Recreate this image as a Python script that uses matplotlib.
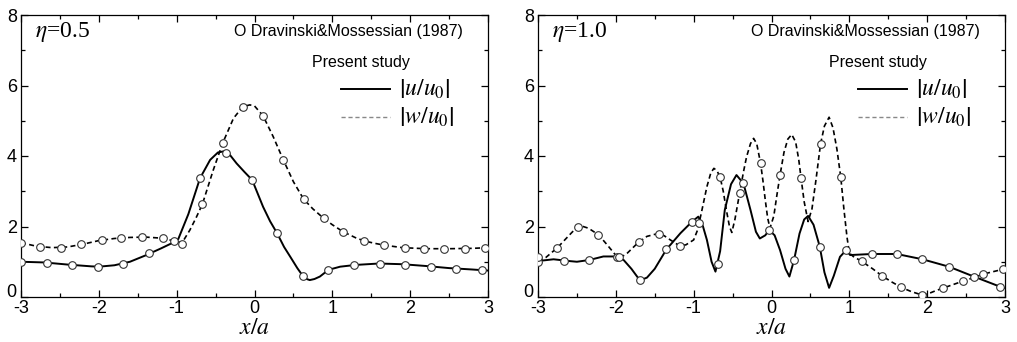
import numpy as np
import matplotlib.pyplot as plt

plt.rcParams['font.family'] = 'Liberation Sans'
plt.rcParams['mathtext.fontset'] = 'stix'

# eta = 0.5, present study (lines)
u05_x = [-3.0, -2.7, -2.4, -2.1, -2.0, -1.8, -1.6, -1.4, -1.2, -1.03, -0.98, -0.85, -0.70, -0.57,
         -0.47, -0.40, -0.33, -0.23, -0.13, -0.03, 0.11, 0.20, 0.29, 0.38, 0.46, 0.55, 0.62, 0.67,
         0.71, 0.77, 0.84, 0.95, 1.10, 1.30, 1.60, 1.90, 2.20, 2.50, 2.80, 3.0]
u05_y = [1.00, 0.98, 0.92, 0.87, 0.86, 0.90, 1.00, 1.18, 1.38, 1.56, 1.64, 2.35, 3.37, 3.89,
         4.10, 4.13, 4.07, 3.79, 3.55, 3.32, 2.56, 2.15, 1.81, 1.42, 1.14, 0.82, 0.60, 0.51,
         0.48, 0.51, 0.58, 0.77, 0.86, 0.91, 0.95, 0.93, 0.88, 0.82, 0.78, 0.75]
w05_x = [-3.0, -2.8, -2.6, -2.4, -2.2, -2.0, -1.8, -1.6, -1.4, -1.2, -1.05, -0.93, -0.83, -0.75,
         -0.67, -0.53, -0.41, -0.27, -0.15, -0.06, 0.0, 0.11, 0.24, 0.37, 0.50, 0.63, 0.75, 0.89,
         1.0, 1.14, 1.30, 1.41, 1.55, 1.67, 1.90, 2.20, 2.50, 2.80, 3.0]
w05_y = [1.54, 1.44, 1.40, 1.42, 1.50, 1.60, 1.66, 1.69, 1.70, 1.67, 1.60, 1.54, 1.90, 2.25,
         2.63, 3.60, 4.36, 5.07, 5.40, 5.45, 5.42, 5.14, 4.55, 3.89, 3.27, 2.78, 2.50, 2.23,
         2.05, 1.85, 1.68, 1.59, 1.52, 1.47, 1.40, 1.37, 1.37, 1.38, 1.40]

# eta = 0.5, Dravinski & Mossessian (1987) (circles)
du05_x = [-3.0, -2.67, -2.35, -2.01, -1.69, -1.35, -1.03, -0.70, -0.36, -0.03, 0.29, 0.62, 0.95,
          1.28, 1.61, 1.94, 2.27, 2.59, 2.92]
du05_y = [1.00, 0.97, 0.90, 0.85, 0.94, 1.24, 1.58, 3.37, 4.09, 3.32, 1.81, 0.60, 0.77,
          0.90, 0.95, 0.91, 0.86, 0.80, 0.76]
dw05_x = [-3.0, -2.75, -2.49, -2.23, -1.96, -1.71, -1.45, -1.18, -0.93, -0.67, -0.41, -0.15, 0.11,
          0.37, 0.63, 0.89, 1.14, 1.41, 1.67, 1.93, 2.18, 2.44, 2.70, 2.96]
dw05_y = [1.54, 1.42, 1.39, 1.49, 1.62, 1.68, 1.70, 1.66, 1.51, 2.65, 4.36, 5.40, 5.14,
          3.89, 2.78, 2.23, 1.85, 1.59, 1.47, 1.40, 1.37, 1.37, 1.37, 1.40]

# eta = 1.0, present study (lines)
u10_x = [-3.0, -2.8, -2.6, -2.5, -2.34, -2.16, -2.0, -1.9, -1.8, -1.69, -1.6, -1.5, -1.35, -1.17,
         -1.02, -0.94, -0.88, -0.83, -0.77, -0.72, -0.66, -0.60, -0.52, -0.45, -0.36, -0.27, -0.20,
         -0.15, -0.08, -0.03, 0.04, 0.11, 0.18, 0.23, 0.29, 0.36, 0.42, 0.47, 0.54, 0.62, 0.68,
         0.74, 0.80, 0.88, 0.96, 1.01, 1.10, 1.29, 1.61, 1.94, 2.28, 2.60, 2.94, 3.0]
u10_y = [1.02, 1.07, 1.02, 1.00, 1.05, 1.15, 1.15, 1.05, 0.80, 0.47, 0.55, 0.80, 1.35, 1.81,
         2.14, 2.28, 2.00, 1.62, 1.00, 0.72, 1.30, 2.47, 3.20, 3.46, 3.22, 2.47, 1.85,
         1.66, 1.75, 1.90, 1.75, 1.33, 0.80, 0.58, 1.05, 1.80, 2.20, 2.30, 2.05, 1.43, 0.70,
         0.26, 0.60, 1.14, 1.33, 1.19, 1.20, 1.22, 1.22, 1.07, 0.86, 0.58, 0.29, 0.25]
w10_x = [-3.0, -2.9, -2.75, -2.6, -2.5, -2.45, -2.35, -2.22, -2.1, -2.0, -1.95, -1.85, -1.71, -1.6,
         -1.46, -1.38, -1.30, -1.18, -1.10, -1.0, -0.95, -0.90, -0.83, -0.78, -0.74, -0.70, -0.66,
         -0.62, -0.58, -0.54, -0.51, -0.47, -0.41, -0.36, -0.32, -0.27, -0.23, -0.19, -0.14, -0.11,
         -0.08, -0.05, -0.02, 0.03, 0.07, 0.11, 0.16, 0.21, 0.26, 0.31, 0.35, 0.38, 0.42, 0.47,
         0.52, 0.57, 0.63, 0.68, 0.74, 0.79, 0.84, 0.89, 0.93, 0.97, 1.0, 1.05, 1.16, 1.30, 1.42,
         1.55, 1.67, 1.80, 1.93, 2.0, 2.10, 2.20, 2.33, 2.46, 2.60, 2.72, 2.85, 3.0]
w10_y = [1.02, 1.12, 1.40, 1.75, 1.98, 2.02, 1.95, 1.76, 1.45, 1.18, 1.10, 1.25, 1.55, 1.72,
         1.80, 1.74, 1.62, 1.45, 1.48, 1.62, 1.90, 2.40, 3.13, 3.52, 3.65, 3.58, 3.40,
         3.00, 2.47, 2.00, 1.83, 2.20, 2.94, 3.55, 3.98, 4.35, 4.50, 4.35, 3.79, 3.30,
         2.75, 2.25, 1.95, 2.30, 2.90, 3.46, 4.10, 4.48, 4.61, 4.40, 3.90, 3.37, 2.70, 2.14,
         2.50, 3.30, 4.34, 4.85, 5.10, 4.80, 4.20, 3.40, 2.50, 1.70, 1.25, 1.15, 1.01, 0.80, 0.60,
         0.42, 0.27, 0.15, 0.06, 0.08, 0.17, 0.25, 0.35, 0.45, 0.55, 0.65, 0.72, 0.80]

# eta = 1.0, Dravinski & Mossessian (1987) (circles)
du10_x = [-3.0, -2.67, -2.34, -1.99, -1.69, -1.35, -1.02, -0.69, -0.36, -0.03, 0.29, 0.62, 0.96,
          1.29, 1.61, 1.94, 2.28, 2.60, 2.94]
du10_y = [1.00, 1.02, 1.05, 1.14, 0.47, 1.35, 2.14, 0.94, 3.22, 1.90, 1.05, 1.43, 1.33,
          1.22, 1.22, 1.07, 0.86, 0.58, 0.29]
dw10_x = [-3.0, -2.75, -2.49, -2.23, -1.96, -1.70, -1.44, -1.18, -0.93, -0.66, -0.41, -0.14, 0.11,
          0.38, 0.63, 0.89, 1.16, 1.42, 1.67, 1.93, 2.20, 2.46, 2.72, 2.97]
dw10_y = [1.13, 1.40, 1.99, 1.75, 1.13, 1.55, 1.79, 1.45, 2.09, 3.40, 2.94, 3.79, 3.46,
          3.37, 4.34, 3.40, 1.01, 0.60, 0.27, 0.06, 0.25, 0.45, 0.65, 0.79]

panels = [
    ('0.5', u05_x, u05_y, w05_x, w05_y, du05_x, du05_y, dw05_x, dw05_y),
    ('1.0', u10_x, u10_y, w10_x, w10_y, du10_x, du10_y, dw10_x, dw10_y),
]

fig = plt.figure(figsize=(10.17, 3.42), dpi=100)
lefts = [21 / 1017, 538 / 1017]

for left, (eta, ux, uy, wx, wy, dux, duy, dwx, dwy) in zip(lefts, panels):
    ax = fig.add_axes([left, 45 / 342, 467 / 1017, 282 / 342])
    ax.plot(ux, uy, color='black', lw=1.4, zorder=2)
    ax.plot(wx, wy, color='black', lw=1.2, ls=(0, (3, 2)), zorder=2)
    for mx, my in ((dux, duy), (dwx, dwy)):
        ax.plot(mx, my, ls='none', marker='o', ms=5.5, mfc='white', mec='#333333',
                mew=0.8, zorder=3)

    ax.set_xlim(-3, 3)
    ax.set_ylim(0, 8)
    ax.set_xticks(np.arange(-3, 4, 1))
    ax.set_xticks(np.arange(-3, 3.01, 0.5), minor=True)
    ax.set_yticks(np.arange(0, 9, 2))
    ax.set_yticks(np.arange(0, 8.01, 1), minor=True)
    ax.tick_params(which='both', direction='in', top=True, right=True, labelsize=13)
    ax.tick_params(axis='x', pad=2.5)
    ax.tick_params(axis='y', pad=3)
    ax.tick_params(which='major', length=5, width=0.9)
    ax.tick_params(which='minor', length=3, width=0.9)
    ax.set_xticklabels([f'{v:d}' for v in range(-3, 4)])
    # sit the "0" label on the baseline so it clears the x tick labels
    ax.yaxis.get_major_ticks()[0].label1.set_va('baseline')
    for s in ax.spines.values():
        s.set_linewidth(0.9)

    ax.set_xlabel(r'$x/a$', fontsize=17, labelpad=-0.5)

    ax.text(0.03, 0.94, r'$\eta$=' + eta, transform=ax.transAxes, fontsize=17,
            family='Liberation Serif', va='center', ha='left')
    ax.text(0.947, 0.94, 'O Dravinski&Mossessian (1987)', transform=ax.transAxes,
            fontsize=11.5, va='center', ha='right')
    ax.text(0.623, 0.83, 'Present study', transform=ax.transAxes, fontsize=11.5,
            va='center', ha='left')
    # legend keys
    ax.plot([0.685, 0.79], [0.738, 0.738], transform=ax.transAxes, color='black', lw=1.4)
    ax.plot([0.685, 0.79], [0.638, 0.638], transform=ax.transAxes, color='#888888', lw=1.0,
            ls=(0, (3, 2)))
    ax.text(0.81, 0.738, r'$\left|u/u_0\right|$', transform=ax.transAxes, fontsize=17,
            va='center', ha='left')
    ax.text(0.81, 0.638, r'$\left|w/u_0\right|$', transform=ax.transAxes, fontsize=17,
            va='center', ha='left')

fig.savefig('out.png', dpi=100)
